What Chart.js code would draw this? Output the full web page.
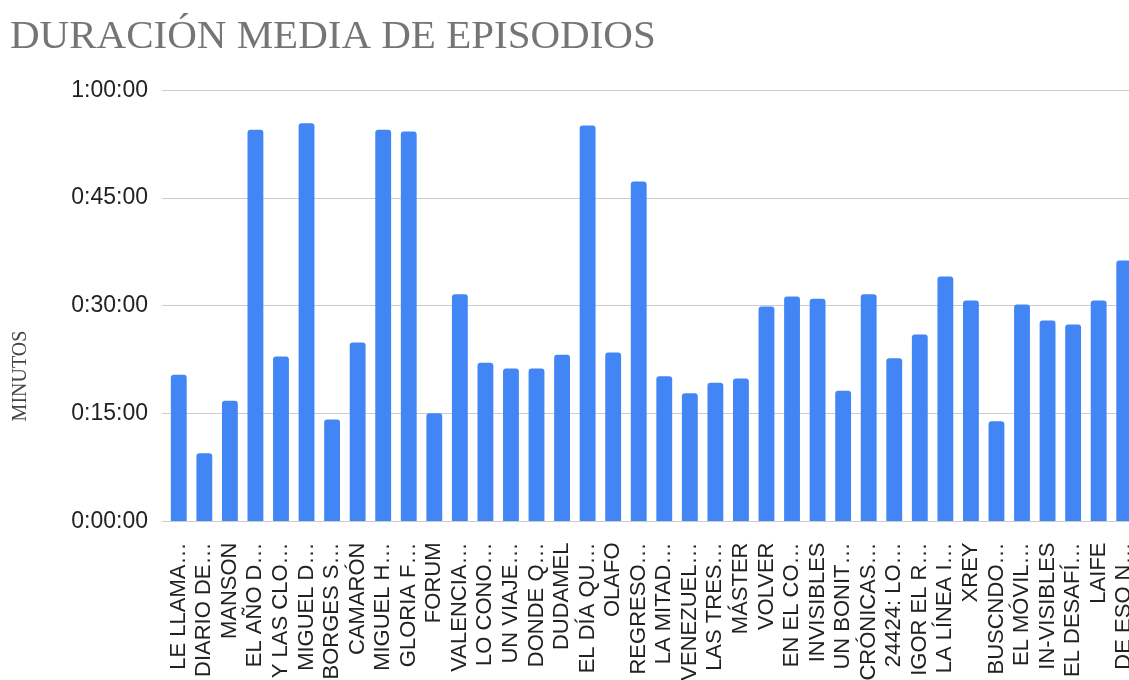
<!DOCTYPE html>
<html lang="es">
<head>
<meta charset="UTF-8">
<title>Duración media de episodios</title>
<script src="https://cdn.jsdelivr.net/npm/chart.js"></script>
<style>
    html, body { margin: 0; padding: 0; background: #fff; overflow: hidden; }
    #wrap { position: absolute; left: 0; top: 0; width: 1140px; height: 720px; }
</style>
</head>
<body>
<div id="wrap"><canvas id="chartCanvas"></canvas></div>

<script>
    // programas (etiquetas recortadas como en la hoja)
    const programas = [
        'LE LLAMA…', 'DIARIO DE…', 'MANSON', 'EL AÑO D…', 'Y LAS CLO…', 'MIGUEL D…',
        'BORGES S…', 'CAMARÓN', 'MIGUEL H…', 'GLORIA F…', 'FORUM', 'VALENCIA…',
        'LO CONO…', 'UN VIAJE…', 'DONDE Q…', 'DUDAMEL', 'EL DÍA QU…', 'OLAFO',
        'REGRESO…', 'LA MITAD…', 'VENEZUEL…', 'LAS TRES…', 'MÁSTER', 'VOLVER',
        'EN EL CO…', 'INVISIBLES', 'UN BONIT…', 'CRÓNICAS…', '24424: LO…', 'IGOR EL R…',
        'LA LÍNEA I…', 'XREY', 'BUSCNDO…', 'EL MÓVIL…', 'IN-VISIBLES', 'EL DESAFÍ…',
        'LAIFE', 'DE ESO N…'
    ];

    // duración media en segundos
    const duracionSeg = [
        1224, 570, 1008, 3270, 1377, 3324,
        852, 1494, 3270, 3255, 904, 1896,
        1326, 1278, 1278, 1392, 3306, 1410,
        2838, 1212, 1071, 1158, 1194, 1794,
        1878, 1860, 1092, 1896, 1362, 1560,
        2046, 1845, 837, 1812, 1678, 1644,
        1845, 2178
    ];

    const yTicks = [0, 900, 1800, 2700, 3600];

    function hms(s) {
        const h = Math.floor(s / 3600);
        const m = Math.floor((s % 3600) / 60);
        const sec = s % 60;
        return h + ':' + String(m).padStart(2, '0') + ':' + String(sec).padStart(2, '0');
    }

    // titulo del eje Y, algo mas abajo que el centro del area
    const tituloEjeY = {
        id: 'tituloEjeY',
        afterDraw(chart) {
            const ctx = chart.ctx;
            ctx.save();
            ctx.translate(21, 376);
            ctx.rotate(-Math.PI / 2);
            ctx.font = '20px "Liberation Serif", serif';
            ctx.fillStyle = '#444444';
            ctx.textAlign = 'center';
            ctx.textBaseline = 'middle';
            ctx.fillText('MINUTOS', 0, 0);
            ctx.restore();
        }
    };

    const ctx = document.getElementById('chartCanvas').getContext('2d');
    new Chart(ctx, {
        type: 'bar',
        data: {
            labels: programas,
            datasets: [{
                label: 'Duración media',
                data: duracionSeg,
                backgroundColor: '#4285F4',
                borderRadius: 3,
                categoryPercentage: 1,
                barPercentage: 0.62
            }]
        },
        options: {
            responsive: true,
            maintainAspectRatio: false,
            animation: false,
            layout: { padding: { left: 10, right: 3, top: 0, bottom: 0 } },
            plugins: {
                legend: { display: false },
                tooltip: { enabled: false },
                title: {
                    display: true,
                    text: 'DURACIÓN MEDIA DE EPISODIOS',
                    align: 'start',
                    color: '#757575',
                    font: { family: '"Liberation Serif", serif', size: 41, weight: 'normal' },
                    padding: { top: 13, bottom: 28 }
                }
            },
            scales: {
                x: {
                    grid: { display: false },
                    border: { display: false },
                    ticks: {
                        autoSkip: false,
                        minRotation: 90,
                        maxRotation: 90,
                        padding: 13,
                        color: '#222222',
                        font: { family: '"Liberation Sans", Arial, sans-serif', size: 22 }
                    },
                    afterFit(s) {
                        s.height = 198.5;
                        s.paddingLeft = 0;
                        s.paddingRight = 0;
                    }
                },
                y: {
                    min: 0,
                    max: 3600,
                    afterBuildTicks(s) { s.ticks = yTicks.map(v => ({ value: v })); },
                    grid: { color: '#cccccc', lineWidth: 1, tickLength: 4 },
                    border: { display: false },
                    ticks: {
                        padding: 14,
                        color: '#222222',
                        font: { family: '"Liberation Sans", Arial, sans-serif', size: 23 },
                        callback: v => hms(v)
                    },
                    afterFit(s) {
                        s.width = 156;
                        s.paddingTop = 0;
                        s.paddingBottom = 0;
                    }
                }
            }
        },
        plugins: [tituloEjeY]
    });
</script>
</body>
</html>
